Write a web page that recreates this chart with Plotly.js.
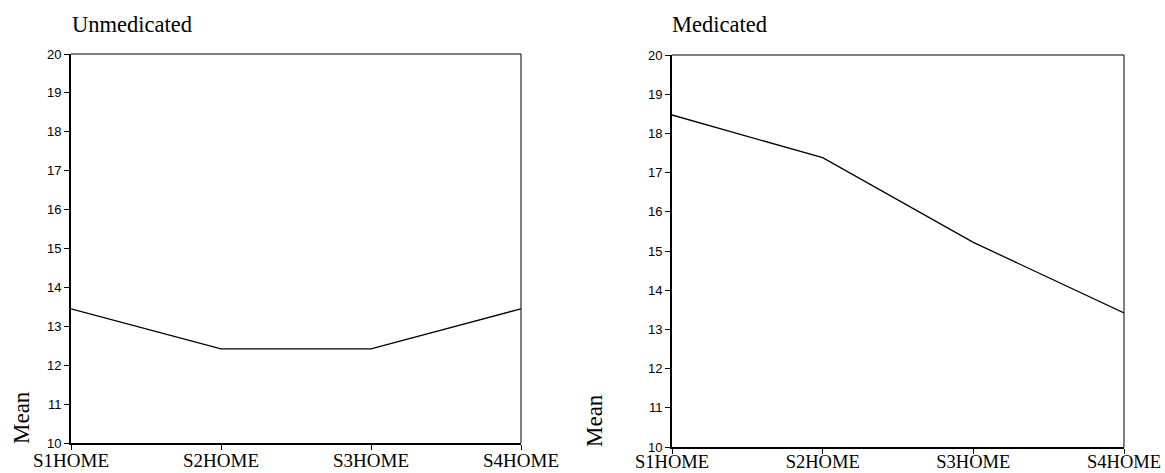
<!DOCTYPE html>
<html>
<head>
<meta charset="utf-8">
<script src="https://cdn.plot.ly/plotly-3.0.1.min.js"></script>
<style>html,body{margin:0;padding:0;background:#fff;}#chart{width:1165px;height:473px;}</style>
</head>
<body>
<div id="chart"></div>
<script>
var categories = ["S1HOME", "S2HOME", "S3HOME", "S4HOME"];
var unmedicatedMeans = [13.45, 12.42, 12.42, 13.45];
var medicatedMeans = [18.47, 17.38, 15.22, 13.42];
var panelTitles = ["Unmedicated", "Medicated"];
var yTickValues = [10, 11, 12, 13, 14, 15, 16, 17, 18, 19, 20];
var yAxisLabel = "Mean";

var serif = "Liberation Serif, Times New Roman, serif";
var sans = "Liberation Sans, Arial, sans-serif";

var traces = [
  {x: categories, y: unmedicatedMeans, type: "scatter", mode: "lines",
   line: {color: "#000", width: 1.3}, xaxis: "x", yaxis: "y", hoverinfo: "none"},
  {x: categories, y: medicatedMeans, type: "scatter", mode: "lines",
   line: {color: "#000", width: 1.3}, xaxis: "x2", yaxis: "y2", hoverinfo: "none"}
];

function xAx(domain, anchor, standoff, fsize) {
  return {domain: domain, anchor: anchor, type: "category", range: [0, 3],
    showgrid: false, zeroline: false, showline: true, linecolor: "#000", linewidth: 2,
    ticks: "outside", ticklen: 5, tickwidth: 1, tickcolor: "#000", ticklabelstandoff: standoff,
    tickfont: {family: serif, size: fsize, color: "#000"}, fixedrange: true};
}
function yAx(domain, anchor) {
  return {domain: domain, anchor: anchor, range: [10, 20], tickvals: yTickValues,
    showgrid: false, zeroline: false, showline: true, linecolor: "#000", linewidth: 2,
    ticks: "outside", ticklen: 5, tickwidth: 1, tickcolor: "#000",
    tickfont: {family: sans, size: 13, color: "#000"}, fixedrange: true};
}

var layout = {
  width: 1165, height: 473,
  margin: {l: 0, r: 0, t: 0, b: 0},
  paper_bgcolor: "#fff", plot_bgcolor: "#fff",
  showlegend: false,
  xaxis: xAx([71/1165, 521/1165], "y", -6, 19),
  yaxis: yAx([30/473, 419/473], "x"),
  xaxis2: xAx([672/1165, 1124/1165], "y2", -8, 18.5),
  yaxis2: yAx([26/473, 418/473], "x2"),
  shapes: [
    {type: "line", xref: "x domain", yref: "y domain", x0: 0, x1: 1, y0: 1, y1: 1, line: {color: "#000", width: 1}},
    {type: "line", xref: "x domain", yref: "y domain", x0: 1, x1: 1, y0: 0, y1: 1, line: {color: "#000", width: 1}},
    {type: "line", xref: "x2 domain", yref: "y2 domain", x0: 0, x1: 1, y0: 1, y1: 1, line: {color: "#000", width: 1}},
    {type: "line", xref: "x2 domain", yref: "y2 domain", x0: 1, x1: 1, y0: 0, y1: 1, line: {color: "#000", width: 1}}
  ],
  annotations: [
    {text: panelTitles[0], xref: "paper", yref: "paper", x: 70/1165, y: 1 - 24/473,
     xanchor: "left", yanchor: "middle", showarrow: false, font: {family: serif, size: 22.5, color: "#000"}},
    {text: panelTitles[1], xref: "paper", yref: "paper", x: 670/1165, y: 1 - 24/473,
     xanchor: "left", yanchor: "middle", showarrow: false, font: {family: serif, size: 22.5, color: "#000"}},
    {text: yAxisLabel, xref: "paper", yref: "paper", x: 21/1165, y: 1 - 418/473, textangle: -90,
     xanchor: "center", yanchor: "middle", showarrow: false, font: {family: serif, size: 23, color: "#000"}},
    {text: yAxisLabel, xref: "paper", yref: "paper", x: 594/1165, y: 1 - 421/473, textangle: -90,
     xanchor: "center", yanchor: "middle", showarrow: false, font: {family: serif, size: 23, color: "#000"}}
  ]
};

Plotly.newPlot("chart", traces, layout, {displayModeBar: false, staticPlot: true});
</script>
</body>
</html>
